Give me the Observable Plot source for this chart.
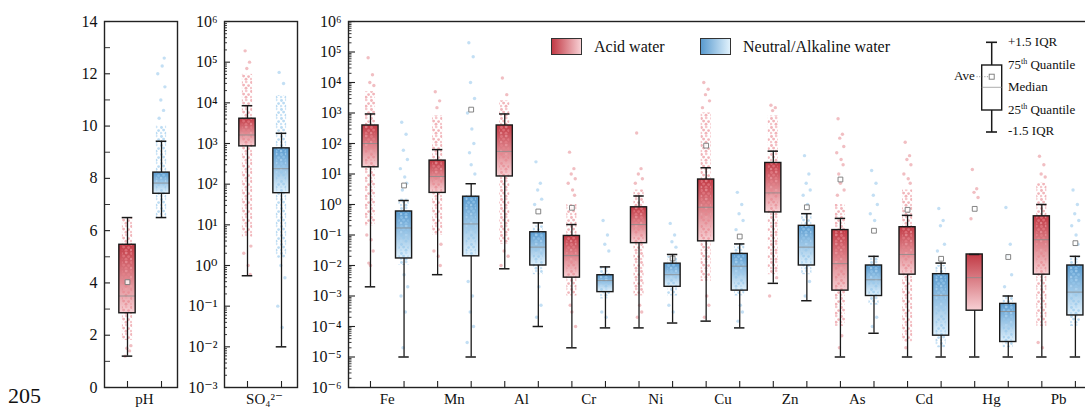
<!DOCTYPE html>
<html><head><meta charset="utf-8">
<script src="https://cdn.jsdelivr.net/npm/d3@7"></script>
<script src="https://cdn.jsdelivr.net/npm/@observablehq/plot@0.6"></script>
<style>
html,body{margin:0;padding:0;background:#fff;}
#wrap{position:relative;width:1085px;height:410px;overflow:hidden;font-family:"Liberation Serif",Tinos,"Times New Roman","DejaVu Serif",serif;color:#111;}
#wrap svg.plot{position:absolute;top:0;}
.lg{position:absolute;font-size:16px;line-height:18px;white-space:nowrap;}
.sw{position:absolute;width:31px;height:17px;border:1px solid #333;box-sizing:border-box;}
.kt{position:absolute;font-size:13px;line-height:14px;white-space:nowrap;}
.kt sup{font-size:8px;vertical-align:5px;line-height:0;}
</style></head><body><div id="wrap"></div>
<script>
// ---------------- data ----------------
const metals = ["Fe","Mn","Al","Cr","Ni","Cu","Zn","As","Cd","Hg","Pb"];
// acid water: -1.5IQR whisker, Q1, median, Q3, +1.5IQR whisker, average
const acidLow  = [0.002, 0.005, 0.0078, 2e-5, 9e-5, 1.5e-4, 0.0026, 1e-5, 1e-5, 1e-5, 1e-5];
const acidQ1   = [16.6, 2.4, 8.3, 0.004, 0.054, 0.062, 0.55, 0.0015, 0.005, 3.3e-4, 0.005];
const acidMed  = [100, 8.3, 55, 0.021, 0.22, 0.81, 2.4, 0.0115, 0.023, 0.004, 0.07];
const acidQ3   = [390, 27.5, 390, 0.093, 0.81, 6.6, 23, 0.145, 0.18, 0.023, 0.41];
const acidHigh = [930, 63, 930, 0.22, 1.9, 16, 56, 0.35, 0.44, 0.023, 1.0];
const acidAve  = [null, null, null, 0.78, null, 85, null, 6.6, 0.67, 0.72, null];
// neutral / alkaline water
const neutLow  = [1e-5, 1e-5, 1e-4, 9e-5, 1.3e-4, 9e-5, 7e-4, 6e-5, 1e-5, 1e-5, 1e-5];
const neutQ1   = [0.017, 0.02, 0.01, 0.00134, 0.002, 0.0015, 0.01, 0.001, 5e-5, 3.1e-5, 2.3e-4];
const neutMed  = [0.17, 0.23, 0.04, 0.0032, 0.005, 0.0095, 0.04, 0.0034, 0.00105, 3.1e-4, 0.00134];
const neutQ3   = [0.59, 1.8, 0.123, 0.0048, 0.0115, 0.024, 0.2, 0.01, 0.0052, 5.5e-4, 0.01];
const neutHigh = [1.35, 4.8, 0.25, 0.009, 0.023, 0.051, 0.5, 0.02, 0.012, 0.001, 0.02];
const neutAve  = [4.2, 1290, 0.59, null, 0.017, 0.089, 0.81, 0.138, 0.0166, 0.019, 0.054];
// dense part of the sample cloud [low, high]
const acidDense = [[0.2,5000],[0.1,800],[0.05,2500],[1e-3,1],[1e-3,3],[0.003,1000],[0.005,800],[1e-4,1],[3e-5,3],null,[1e-4,5]];
const neutDense = [[0.01,1.5],[0.02,2],[0.005,0.2],[8e-4,0.009],[1e-3,0.02],[1e-3,0.05],[0.005,0.5],[5e-4,0.02],[2e-5,0.01],[2e-5,1e-3],[1e-4,0.02]];
// scattered individual samples
const acidPoints = [
  [6.5e4,1.8e4,1e4,8e3,0.1,0.07,0.03,0.012,0.01],
  [5000,2500,1500,0.05,0.03,0.02,0.01],
  [1.4e4,4000,0.03,0.02,0.01],
  [52,15,10,7,5,3,2,5e-4,3e-4,1e-4],
  [220,15,10,7,5,5e-4,3e-4,2e-4],
  [1e4,6000,4000,2500,1500,1e-3,5e-4,2e-4],
  [1800,1500,1200,4e-3,1e-3],
  [650,200,150,80,50,30,20,10,5,3,2,5e-5,2e-5],
  [110,40,30,20,10,7,5,2e-5],
  [14,3.3,2.5,1.7,0.34],
  [38,20,10,8,3e-5,2e-5]
];
const neutPoints = [
  [500,200,60,30,15,8,5,3,0.005,0.002,0.001,3e-4,2e-5],
  [2e5,7e4,1e4,3000,1000,300,100,50,20,10,0.003,1e-3,3e-4,1e-4,3e-5],
  [25,5,3,1.5,1,0.002,5e-4,2e-4],
  [0.3,0.1,0.05,0.03,3e-4,2e-4],
  [0.24,0.1,0.06,0.04,5e-4,3e-4],
  [2.5,1,0.5,0.3,0.15,5e-4,3e-4,1.5e-4],
  [40,10,5,3,2,1,0.003,1e-3],
  [13,5,2,1,0.5,0.3,2e-4,1e-4],
  [0.74,0.3,0.2,0.05,0.03],
  [0.8,0.05,0.02,0.005,0.002],
  [3,1,0.5,0.3,0.2,0.1,0.05]
];
// pH: low, Q1, median, Q3, high, average
const phAcid = [1.2, 2.84, 3.5, 5.46, 6.5, 4.03];
const phNeut = [6.5, 7.41, 7.82, 8.22, 9.42, null];
const phAcidDense = [1.8, 6.5], phNeutDense = [6.5, 10];
const phAcidPoints = [1.2, 1.4, 1.5, 1.6];
const phNeutPoints = [10.3, 10.6, 11, 11.5, 12, 12.3, 12.6];
// SO4 2-
const so4Acid = [0.56, 850, 1620, 4070, 8500, null];
const so4Neut = [0.01, 60, 240, 760, 1780, null];
const so4AcidDense = [5, 5e4], so4NeutDense = [1.5, 1.5e4];
const so4AcidPoints = [1.9e5, 1e5, 7e4, 3, 2, 1, 0.6];
const so4NeutPoints = [5.6e4, 3e4, 1, 0.5, 0.1, 0.03];
const panelLabels = ["pH", "SO₄²⁻"];

// ---------------- helpers ----------------
const FONT = '"Liberation Serif",Tinos,"Times New Roman","DejaVu Serif",serif';
const jit = [-0.07,0.06,-0.02,0.1,-0.11,0.02,0.08,-0.05,0.0,0.11,-0.09,0.04,-0.03,0.07,-0.12];
function row(x, g, s, dense) {
  return {x, g, low:s[0], q1:s[1], med:s[2], q3:s[3], high:s[4], ave:s[5],
          dLo: dense ? dense[0] : null, dHi: dense ? dense[1] : null};
}
function pts(x, g, vals) { return vals.map((v, j) => ({x: x + jit[j % jit.length], y: v, g})); }
const supMap = {"0":"⁰","1":"¹","2":"²","3":"³","4":"⁴","5":"⁵","6":"⁶","7":"⁷","8":"⁸","9":"⁹","-":"⁻"};
const logFmt = d => "10" + String(Math.round(Math.log10(d))).replace(/./g, c => supMap[c]);
function decades(a, b) { const r = []; for (let e = a; e <= b; e++) r.push(Math.pow(10, e)); return r; }
function minorsLog(a, b) { const r = []; for (let e = a; e < b; e++) for (let m = 2; m <= 9; m++) r.push(m * Math.pow(10, e)); return r; }

const cloud = (c1, c2, o) => `
<circle cx="1.5" cy="1.5" r="1.45" fill="${c1}" fill-opacity="${o}"/>
<circle cx="6.2" cy="0.9" r="1.35" fill="${c2}" fill-opacity="${o}"/>
<circle cx="3.6" cy="4.1" r="1.45" fill="${c1}" fill-opacity="${o}"/>
<circle cx="8.6" cy="4.6" r="1.4" fill="${c1}" fill-opacity="${o}"/>
<circle cx="1.0" cy="7.0" r="1.35" fill="${c2}" fill-opacity="${o}"/>
<circle cx="6.0" cy="7.3" r="1.45" fill="${c1}" fill-opacity="${o}"/>`;
const defs = id => `<defs>
<linearGradient id="${id}-ga" x1="0" y1="0" x2="0" y2="1"><stop offset="0" stop-color="#c23a45"/><stop offset="1" stop-color="#f7d0d4"/></linearGradient>
<linearGradient id="${id}-gn" x1="0" y1="0" x2="0" y2="1"><stop offset="0" stop-color="#5a9bcf"/><stop offset="1" stop-color="#e0f1fc"/></linearGradient>
<pattern id="${id}-pa" patternUnits="userSpaceOnUse" width="10" height="9">${cloud("#e7838c", "#efa2a8", 0.6)}</pattern>
<pattern id="${id}-pn" patternUnits="userSpaceOnUse" width="10" height="9">${cloud("#97c8ec", "#b3d8f3", 0.65)}</pattern>
</defs>`;

function panel(o) {
  const {id, rows, points, y, majors, minors, majorLen, minorLen, fmt, xDomain, tickXs, labelXs, labelFmt, width, ml, mr, left} = o;
  const A = rows.filter(d => d.g === "a"), N = rows.filter(d => d.g === "n");
  const hw = 0.24, cw = 0.155, jw = 0.15;
  const box = (data, fill) => Plot.rect(data, {x1: d => d.x - hw, x2: d => d.x + hw, y1: "q1", y2: "q3", fill});
  const dense = (data, fill) => Plot.rect(data.filter(d => d.dLo != null), {x1: d => d.x - jw, x2: d => d.x + jw, y1: "dLo", y2: "dHi", fill});
  const svg = Plot.plot({
    width, height: 410, marginLeft: ml, marginRight: mr, marginTop: 21, marginBottom: 23,
    style: {fontFamily: FONT, fontSize: "16px", color: "#111", background: "transparent"},
    x: {domain: xDomain},
    y,
    marks: [
      box(A, `url(#${id}-ga)`),
      box(N, `url(#${id}-gn)`),
      dense(A, `url(#${id}-pa)`),
      dense(N, `url(#${id}-pn)`),
      Plot.dot(points.filter(d => d.g === "a"), {x: "x", y: "y", r: 1.7, fill: "#e58890", fillOpacity: 0.55}),
      Plot.dot(points.filter(d => d.g === "n"), {x: "x", y: "y", r: 1.7, fill: "#9bcaec", fillOpacity: 0.6}),
      Plot.ruleY(rows, {x1: d => d.x - hw, x2: d => d.x + hw, y: "med", stroke: "#8a8a8a", strokeWidth: 0.8}),
      Plot.dot(rows.filter(d => d.ave != null), {x: "x", y: "ave", symbol: "square", r: 2.7, stroke: "#777", strokeWidth: 0.9, fill: "white", fillOpacity: 0.8}),
      Plot.rect(rows, {x1: d => d.x - hw, x2: d => d.x + hw, y1: "q1", y2: "q3", fill: "none", stroke: "#1a1a1a", strokeWidth: 1.4}),
      Plot.ruleX(rows, {x: "x", y1: "q3", y2: "high", stroke: "#1a1a1a", strokeWidth: 1.3}),
      Plot.ruleX(rows, {x: "x", y1: "low", y2: "q1", stroke: "#1a1a1a", strokeWidth: 1.3}),
      Plot.ruleY(rows, {x1: d => d.x - cw, x2: d => d.x + cw, y: "high", stroke: "#1a1a1a", strokeWidth: 1.5}),
      Plot.ruleY(rows, {x1: d => d.x - cw, x2: d => d.x + cw, y: "low", stroke: "#1a1a1a", strokeWidth: 1.5}),
      Plot.axisY(majors, {tickSize: 0, tickPadding: 7, tickFormat: fmt, label: null, fontSize: 16, fontFamily: FONT}),
      Plot.axisY(majors, {tickSize: -majorLen, fill: "none", label: null, stroke: "#222", strokeWidth: 1.1}),
      minors ? Plot.axisY(minors, {tickSize: -minorLen, fill: "none", label: null, stroke: "#222", strokeWidth: 0.9}) : null,
      Plot.axisX(tickXs, {tickSize: -6, fill: "none", label: null, stroke: "#222", strokeWidth: 1.1}),
      Plot.axisX(labelXs, {tickSize: 0, tickPadding: 6, tickFormat: labelFmt, label: null, fontSize: 15, fontFamily: FONT}),
      Plot.frame({stroke: "#222", strokeWidth: 1.4})
    ]
  });
  svg.insertAdjacentHTML("afterbegin", defs(id));
  svg.classList.add("plot");
  svg.style.left = left + "px";
  return svg;
}

const wrap = document.getElementById("wrap");
const pairDomain = [-0.676, 1.47];

// pH panel
wrap.appendChild(panel({
  id: "p1", left: 0, width: 180, ml: 104, mr: 3,
  rows: [row(0, "a", phAcid, phAcidDense), row(1, "n", phNeut, phNeutDense)],
  points: [...pts(0, "a", phAcidPoints), ...pts(1, "n", phNeutPoints)],
  y: {domain: [0, 14]},
  majors: d3.range(0, 15, 2), minors: d3.range(1, 14, 2), majorLen: 6, minorLen: 6, fmt: d => String(d),
  xDomain: pairDomain, tickXs: [0, 1], labelXs: [0.5], labelFmt: () => panelLabels[0]
}));

// SO4 panel
wrap.appendChild(panel({
  id: "p2", left: 180, width: 120, ml: 44, mr: 3,
  rows: [row(0, "a", so4Acid, so4AcidDense), row(1, "n", so4Neut, so4NeutDense)],
  points: [...pts(0, "a", so4AcidPoints), ...pts(1, "n", so4NeutPoints)],
  y: {type: "log", domain: [1e-3, 1e6]},
  majors: decades(-3, 6), minors: minorsLog(-3, 6), majorLen: 6, minorLen: 3, fmt: logFmt,
  xDomain: pairDomain, tickXs: [0, 1], labelXs: [0.5], labelFmt: () => panelLabels[1]
}));

// metals panel
const mRows = [], mPts = [];
metals.forEach((m, k) => {
  mRows.push(row(2 * k, "a", [acidLow[k], acidQ1[k], acidMed[k], acidQ3[k], acidHigh[k], acidAve[k]], acidDense[k]));
  mRows.push(row(2 * k + 1, "n", [neutLow[k], neutQ1[k], neutMed[k], neutQ3[k], neutHigh[k], neutAve[k]], neutDense[k]));
  mPts.push(...pts(2 * k, "a", acidPoints[k]), ...pts(2 * k + 1, "n", neutPoints[k]));
});
wrap.appendChild(panel({
  id: "p3", left: 300, width: 800, ml: 48, mr: 10,
  rows: mRows, points: mPts,
  y: {type: "log", domain: [1e-6, 1e6]},
  majors: decades(-6, 6), minors: minorsLog(-6, 6), majorLen: 7, minorLen: 3.5, fmt: logFmt,
  xDomain: [-0.655, 21.45], tickXs: d3.range(0, 22), labelXs: metals.map((m, k) => 2 * k + 0.5),
  labelFmt: d => metals[Math.round((d - 0.5) / 2)]
}));

// legend
wrap.insertAdjacentHTML("beforeend", `
<div class="sw" style="left:551px;top:38px;background:linear-gradient(to right,#c23a45,#f7d0d4)"></div>
<div class="lg" style="left:594px;top:38px">Acid water</div>
<div class="sw" style="left:700px;top:38px;background:linear-gradient(to right,#5a9bcf,#e0f1fc)"></div>
<div class="lg" style="left:743px;top:38px">Neutral/Alkaline water</div>
<svg width="1085" height="410" style="position:absolute;left:0;top:0;pointer-events:none">
<line x1="991.7" y1="42.3" x2="991.7" y2="65" stroke="#1a1a1a" stroke-width="1.5"/>
<line x1="991.7" y1="110" x2="991.7" y2="132" stroke="#1a1a1a" stroke-width="1.5"/>
<line x1="986" y1="42.3" x2="997" y2="42.3" stroke="#1a1a1a" stroke-width="1.6"/>
<line x1="986" y1="132" x2="997" y2="132" stroke="#1a1a1a" stroke-width="1.6"/>
<rect x="981.7" y="65" width="20" height="45" fill="white" stroke="#1a1a1a" stroke-width="1.4"/>
<line x1="981.7" y1="87.3" x2="1001.7" y2="87.3" stroke="#999" stroke-width="0.8"/>
<line x1="976.5" y1="76.7" x2="989" y2="76.7" stroke="#888" stroke-width="0.8" stroke-dasharray="1.2,1.4"/>
<rect x="989.2" y="74.2" width="5" height="5" fill="white" stroke="#777" stroke-width="0.9"/>
</svg>
<div class="kt" style="left:954px;top:69px">Ave</div>
<div class="kt" style="left:1008px;top:35px">+1.5 IQR</div>
<div class="kt" style="left:1008px;top:58px">75<sup>th</sup> Quantile</div>
<div class="kt" style="left:1008px;top:80px">Median</div>
<div class="kt" style="left:1008px;top:103px">25<sup>th</sup> Quantile</div>
<div class="kt" style="left:1008px;top:124px">-1.5 IQR</div>
<div style="position:absolute;left:8px;top:385px;font-size:22px;line-height:1;">205</div>
`);
</script></body></html>
